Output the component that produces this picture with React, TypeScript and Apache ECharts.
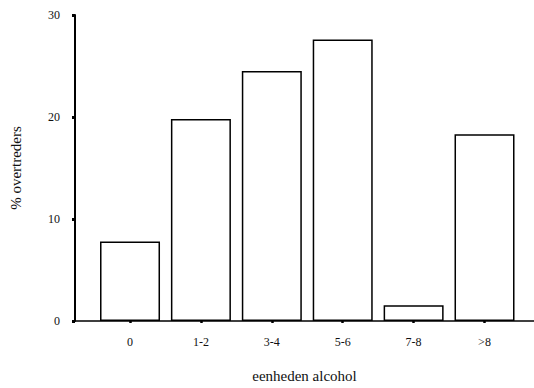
import React, { useEffect, useRef } from "react";
import * as echarts from "echarts";

const categories = ["0", "1-2", "3-4", "5-6", "7-8", ">8"];
const values = [7.8, 19.8, 24.5, 27.6, 1.55, 18.3];
const yTicks = [0, 10, 20, 30];

export default function App() {
  const ref = useRef<HTMLDivElement>(null);
  useEffect(() => {
    if (!ref.current) return;
    const chart = echarts.init(ref.current, null, { renderer: "svg" });
    const font = "Liberation Serif";
    chart.setOption({
      animation: false,
      backgroundColor: "#ffffff",
      grid: { left: 75, right: 0, top: 15, bottom: 64 },
      xAxis: {
        type: "value",
        min: -0.776,
        max: 5.698,
        name: "eenheden alcohol",
        nameLocation: "middle",
        nameGap: 47,
        nameTextStyle: { fontFamily: font, fontSize: 15, color: "#111" },
        splitLine: { show: false },
        axisLine: { show: true, onZero: false, lineStyle: { color: "#000", width: 1.5 } },
        axisTick: {
          show: true,
          customValues: categories.map((_, i) => i),
          length: 2,
          lineStyle: { color: "#000", width: 2.5 },
        },
        axisLabel: {
          customValues: categories.map((_, i) => i),
          formatter: (v: number) => categories[Math.round(v)] ?? "",
          fontFamily: font,
          fontSize: 12,
          color: "#111",
          margin: 15,
        },
      },
      yAxis: {
        type: "value",
        min: yTicks[0],
        max: yTicks[yTicks.length - 1],
        interval: 10,
        name: "% overtreders",
        nameLocation: "middle",
        nameGap: 52,
        nameTextStyle: { fontFamily: font, fontSize: 15, color: "#111" },
        splitLine: { show: false },
        axisLine: { show: true, onZero: false, lineStyle: { color: "#000", width: 2 } },
        axisTick: { show: true, length: 3, lineStyle: { color: "#000", width: 3 } },
        axisLabel: { fontFamily: font, fontSize: 12, color: "#111", margin: 15 },
      },
      series: [
        {
          type: "bar",
          data: values.map((v, i) => [i, v]),
          barWidth: 60,
          itemStyle: { color: "#ffffff", borderColor: "#000", borderWidth: 1.5 },
        },
      ],
    });
    return () => chart.dispose();
  }, []);
  return <div ref={ref} style={{ width: 534, height: 388, position: "absolute", left: 0, top: 0 }} />;
}
